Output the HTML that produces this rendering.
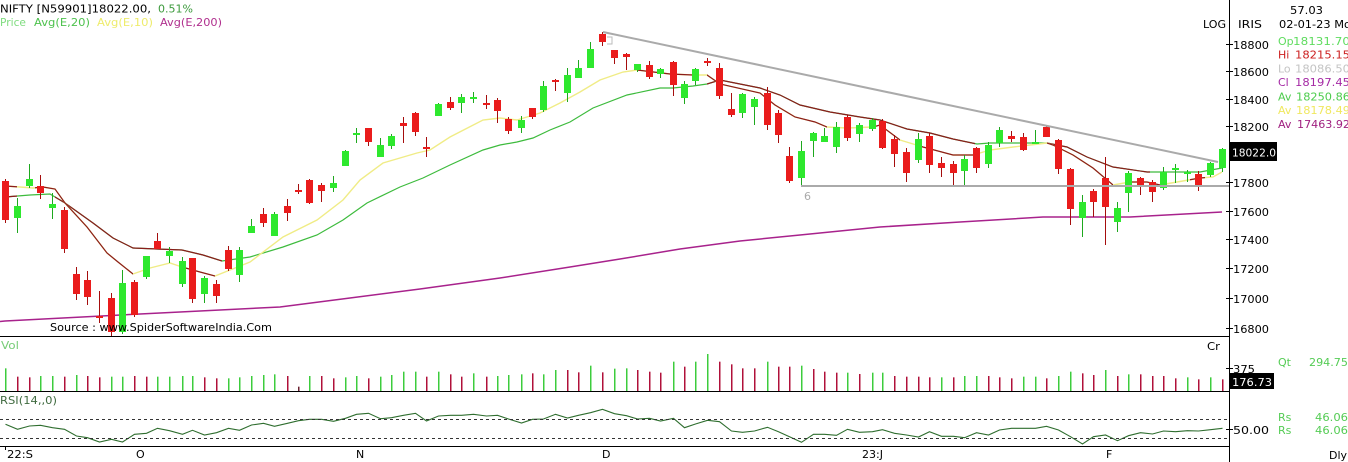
<!DOCTYPE html>
<html><head><meta charset="utf-8">
<style>
html,body{margin:0;padding:0;background:#fff;width:1348px;height:462px;overflow:hidden}
svg{display:block}
text{font-family:"DejaVu Sans","Liberation Sans",sans-serif;font-size:11px}
</style></head>
<body>
<svg id="s" width="1348" height="462" viewBox="0 0 1348 462" xmlns="http://www.w3.org/2000/svg">
<defs>
  <clipPath id="pc"><rect x="0" y="0" width="1229" height="336"/></clipPath>
  <clipPath id="m10">
    <rect x="0" y="0" width="17" height="336"/>
    <rect x="35" y="0" width="98" height="336"/>
    <rect x="180" y="0" width="35" height="336"/>
    <rect x="637" y="0" width="56" height="336"/>
    <rect x="707" y="0" width="120" height="336"/>
    <rect x="873" y="0" width="27" height="336"/>
    <rect x="920" y="0" width="55" height="336"/>
    <rect x="1047" y="0" width="66" height="336"/>
    <rect x="1130" y="0" width="30" height="336"/>
    <rect x="1190" y="0" width="15" height="336"/>
  </clipPath>
  <clipPath id="m20">
    <rect x="0" y="0" width="17" height="336"/>
    <rect x="55" y="0" width="167" height="336"/>
    <rect x="707" y="0" width="268" height="336"/>
    <rect x="1047" y="0" width="103" height="336"/>
  </clipPath>
</defs>
<rect x="0" y="0" width="1348" height="462" fill="#fff"/>

<g id="dyn"></g>

<!-- panel frame -->
<line x1="1229.5" y1="0" x2="1229.5" y2="462" stroke="#000" stroke-width="1"/>
<line x1="0" y1="336.5" x2="1229" y2="336.5" stroke="#000" stroke-width="1"/>
<line x1="0" y1="391.5" x2="1229" y2="391.5" stroke="#000" stroke-width="1"/>
<line x1="0" y1="446.5" x2="1229" y2="446.5" stroke="#000" stroke-width="1"/>
<line x1="0" y1="419.5" x2="1229" y2="419.5" stroke="#333" stroke-width="1" stroke-dasharray="3,3"/>
<line x1="0" y1="438.5" x2="1229" y2="438.5" stroke="#333" stroke-width="1" stroke-dasharray="3,3"/>

<!-- header left -->
<text x="0" y="12.5" fill="#000" textLength="151" lengthAdjust="spacingAndGlyphs">NIFTY [N59901]18022.00,</text>
<text x="158" y="12.5" fill="#3c9a3c" textLength="35" lengthAdjust="spacingAndGlyphs">0.51%</text>
<text x="0" y="26" fill="#7fdc7f" textLength="26" lengthAdjust="spacingAndGlyphs">Price</text>
<text x="34" y="26" fill="#4ec24e" textLength="56" lengthAdjust="spacingAndGlyphs">Avg(E,20)</text>
<text x="97" y="26" fill="#eeec6c" textLength="56" lengthAdjust="spacingAndGlyphs">Avg(E,10)</text>
<text x="160" y="26" fill="#b0308e" textLength="62" lengthAdjust="spacingAndGlyphs">Avg(E,200)</text>

<!-- header right -->
<text x="1290" y="14" fill="#000" textLength="33" lengthAdjust="spacingAndGlyphs">57.03</text>
<text x="1203" y="28" fill="#000" textLength="23" lengthAdjust="spacingAndGlyphs">LOG</text>
<text x="1238" y="28" fill="#000" textLength="24" lengthAdjust="spacingAndGlyphs">IRIS</text>
<text x="1279" y="28" fill="#000" textLength="72" lengthAdjust="spacingAndGlyphs">02-01-23 Mo</text>
<text x="1278" y="45" fill="#5fdc5f">Op</text><text x="1293" y="45" fill="#5fdc5f" textLength="57" lengthAdjust="spacingAndGlyphs">18131.70</text>
<text x="1278" y="58.5" fill="#cc1f1f">Hi</text><text x="1295" y="58.5" fill="#cc1f1f" textLength="55" lengthAdjust="spacingAndGlyphs">18215.15</text>
<text x="1278" y="72.5" fill="#c4c4c4">Lo</text><text x="1295" y="72.5" fill="#c4c4c4" textLength="55" lengthAdjust="spacingAndGlyphs">18086.50</text>
<text x="1278" y="86" fill="#a52aa5">Cl</text><text x="1295" y="86" fill="#a52aa5" textLength="55" lengthAdjust="spacingAndGlyphs">18197.45</text>
<text x="1278" y="100.5" fill="#4ccc4c">Av</text><text x="1296" y="100.5" fill="#4ccc4c" textLength="54" lengthAdjust="spacingAndGlyphs">18250.86</text>
<text x="1278" y="114" fill="#f0e860">Av</text><text x="1296" y="114" fill="#f0e860" textLength="54" lengthAdjust="spacingAndGlyphs">18178.49</text>
<text x="1278" y="128" fill="#a02080">Av</text><text x="1297" y="128" fill="#a02080" textLength="53" lengthAdjust="spacingAndGlyphs">17463.92</text>

<!-- price axis -->
<g stroke="#000" stroke-width="1">
  <line x1="1226" y1="44.5" x2="1233" y2="44.5"/>
  <line x1="1226" y1="71.5" x2="1233" y2="71.5"/>
  <line x1="1226" y1="99.5" x2="1233" y2="99.5"/>
  <line x1="1226" y1="126.5" x2="1233" y2="126.5"/>
  <line x1="1226" y1="182.5" x2="1233" y2="182.5"/>
  <line x1="1226" y1="211.5" x2="1233" y2="211.5"/>
  <line x1="1226" y1="239.5" x2="1233" y2="239.5"/>
  <line x1="1226" y1="268.5" x2="1233" y2="268.5"/>
  <line x1="1226" y1="298.5" x2="1233" y2="298.5"/>
  <line x1="1226" y1="328.5" x2="1233" y2="328.5"/>
  <line x1="1226" y1="368.5" x2="1233" y2="368.5"/>
  <line x1="1226" y1="429.5" x2="1233" y2="429.5"/>
</g>
<g fill="#000">
  <text x="1233" y="49" textLength="36" lengthAdjust="spacingAndGlyphs">18800</text>
  <text x="1233" y="76" textLength="36" lengthAdjust="spacingAndGlyphs">18600</text>
  <text x="1233" y="104" textLength="36" lengthAdjust="spacingAndGlyphs">18400</text>
  <text x="1233" y="131" textLength="36" lengthAdjust="spacingAndGlyphs">18200</text>
  <text x="1233" y="187" textLength="36" lengthAdjust="spacingAndGlyphs">17800</text>
  <text x="1233" y="216" textLength="36" lengthAdjust="spacingAndGlyphs">17600</text>
  <text x="1233" y="244" textLength="36" lengthAdjust="spacingAndGlyphs">17400</text>
  <text x="1233" y="273" textLength="36" lengthAdjust="spacingAndGlyphs">17200</text>
  <text x="1233" y="303" textLength="36" lengthAdjust="spacingAndGlyphs">17000</text>
  <text x="1233" y="333" textLength="36" lengthAdjust="spacingAndGlyphs">16800</text>
  <text x="1233" y="373" textLength="22" lengthAdjust="spacingAndGlyphs">375</text>
  <text x="1233" y="434" textLength="36" lengthAdjust="spacingAndGlyphs">50.00</text>
</g>
<rect x="1230" y="142" width="47" height="19" fill="#000"/>
<text x="1232" y="156.5" fill="#fff" textLength="44" lengthAdjust="spacingAndGlyphs">18022.0</text>
<rect x="1230" y="373" width="44" height="16" fill="#000"/>
<text x="1232" y="386" fill="#fff" textLength="40" lengthAdjust="spacingAndGlyphs">176.73</text>

<text x="1278" y="366" fill="#55cc55">Qt</text><text x="1309" y="366" fill="#55cc55" textLength="39" lengthAdjust="spacingAndGlyphs">294.75</text>
<text x="1278" y="421" fill="#55cc55">Rs</text><text x="1315" y="421" fill="#55cc55" textLength="33" lengthAdjust="spacingAndGlyphs">46.06</text>
<text x="1278" y="434" fill="#55cc55">Rs</text><text x="1315" y="434" fill="#55cc55" textLength="33" lengthAdjust="spacingAndGlyphs">46.06</text>
<text x="1329" y="459" fill="#000" textLength="18" lengthAdjust="spacingAndGlyphs">Dly</text>
<text x="1207" y="350" fill="#000" textLength="13" lengthAdjust="spacingAndGlyphs">Cr</text>

<!-- panel labels -->
<text x="1" y="349" fill="#77cc77" textLength="18" lengthAdjust="spacingAndGlyphs">Vol</text>
<text x="0" y="404" fill="#3f6a3f" textLength="57" lengthAdjust="spacingAndGlyphs">RSI(14,,0)</text>

<!-- x axis -->
<line x1="5.5" y1="447" x2="5.5" y2="450" stroke="#000"/>
<g fill="#000">
  <text x="7" y="458" textLength="26" lengthAdjust="spacingAndGlyphs">22:S</text>
  <text x="136" y="458">O</text>
  <text x="356" y="458">N</text>
  <text x="602" y="458">D</text>
  <text x="862" y="458" textLength="21" lengthAdjust="spacingAndGlyphs">23:J</text>
  <text x="1106" y="458">F</text>
</g>

<text x="804" y="200" fill="#aaa">6</text>
<text x="50" y="331" fill="#000" font-size="12" textLength="222" lengthAdjust="spacingAndGlyphs">Source : www.SpiderSoftwareIndia.Com</text>
</svg>

<script>
(function(){
var NS='http://www.w3.org/2000/svg';
var root=document.getElementById('dyn');
function el(tag,attrs,parent){var e=document.createElementNS(NS,tag);for(var k in attrs)e.setAttribute(k,attrs[k]);(parent||root).appendChild(e);return e;}

var C=[
[5,179,181,220,223,'R'],[17,198,206,218,233,'G'],[29,164,179,186,188,'G'],[40,175,186,193,199,'R'],
[52,193,204,208,219,'G'],[64,207,210,249,253,'R'],[76,267,274,294,300,'R'],[87,271,280,297,305,'R'],
[99,291,316,318,323,'R'],[111,293,298,332,336,'R'],[122,270,283,332,334,'G'],[134,280,282,315,317,'R'],
[146,256,256,277,279,'G'],[157,233,241,249,249,'R'],[169,247,251,256,263,'G'],[182,257,261,284,287,'G'],
[192,258,258,299,303,'R'],[204,276,278,294,303,'G'],[216,280,284,296,303,'R'],[228,246,250,269,271,'R'],
[239,247,250,275,282,'G'],[251,219,226,233,233,'G'],[263,208,214,223,227,'R'],[274,212,214,236,236,'G'],
[287,199,206,213,221,'R'],[298,184,190,192,194,'R'],[309,179,180,203,204,'R'],[321,183,185,191,202,'R'],
[333,176,183,188,192,'G'],[345,150,151,166,166,'G'],[356,128,133,135,143,'G'],[368,128,128,142,146,'R'],
[380,138,145,157,157,'G'],[391,134,136,146,149,'G'],[403,117,123,126,143,'R'],[415,112,113,132,136,'R'],
[426,137,147,149,157,'R'],[438,103,104,116,116,'G'],[450,97,102,108,110,'R'],[461,94,97,103,113,'G'],
[473,92,97,98,103,'G'],[486,95,103,105,109,'R'],[497,98,100,111,123,'R'],[508,117,119,131,134,'R'],
[521,116,120,128,133,'G'],[532,108,108,117,119,'R'],[543,81,86,110,112,'G'],[555,79,80,82,91,'R'],
[567,68,75,93,102,'G'],[578,60,68,78,78,'G'],[590,42,49,68,68,'G'],[602,32,34,42,46,'R'],
[614,50,50,58,64,'R'],[626,53,54,57,70,'R'],[637,64,64,70,72,'G'],[649,61,65,77,79,'R'],
[660,68,69,74,78,'G'],[673,61,62,85,96,'R'],[684,81,84,98,104,'G'],[695,68,69,81,85,'G'],
[707,58,61,62,66,'R'],[719,63,68,96,99,'R'],[731,93,109,115,117,'R'],[742,93,94,113,118,'G'],
[754,97,99,107,125,'G'],[767,87,93,125,130,'R'],[778,110,113,135,143,'R'],[789,147,156,181,183,'R'],
[801,141,151,178,185,'G'],[813,132,133,141,157,'G'],[824,128,136,142,142,'G'],[836,122,127,147,153,'G'],
[847,115,117,138,141,'R'],[859,123,125,134,142,'G'],[872,118,120,129,131,'G'],[882,119,121,148,149,'R'],
[894,135,139,154,167,'R'],[906,148,152,173,182,'R'],[918,133,139,160,163,'G'],[929,133,136,165,173,'R'],
[941,157,163,168,177,'R'],[953,161,164,173,185,'R'],[964,155,159,171,185,'G'],[976,147,148,168,173,'R'],
[988,142,145,164,168,'G'],[999,127,130,143,147,'G'],[1011,131,136,139,142,'R'],[1023,133,137,150,151,'R'],
[1035,130,142,143,143,'G'],[1046,125,127,137,137,'R'],[1058,139,140,169,174,'R'],[1070,168,169,209,225,'R'],
[1082,195,202,218,237,'G'],[1093,189,191,202,217,'R'],[1105,157,178,207,245,'R'],[1117,202,208,222,232,'G'],
[1128,171,173,193,212,'G'],[1140,177,178,185,195,'R'],[1152,180,182,192,202,'R'],[1163,167,172,188,190,'G'],
[1175,164,168,170,183,'G'],[1187,170,172,174,182,'G'],[1198,171,174,187,191,'R'],[1210,162,163,175,177,'G'],
[1222,148,149,168,172,'G']
];

var pg=el('g',{'clip-path':'url(#pc)'});

function pts(a){return a.map(function(p){return p[0]+','+p[1];}).join(' ');}
var E200=[[0,321.5],[5,321],[140,314],[280,307],[350,298],[420,289],[500,278],[570,267],[620,259],[680,249],[740,241],[800,235],[880,227],[960,222],[1043,217],[1130,217],[1222,212]];
var E20=[[5,197],[30,195],[50,194],[65,203],[93,223],[113,238],[133,248],[157,249],[182,250],[203,255],[222,261],[250,257],[283,247],[317,235],[343,220],[367,203],[400,187],[423,178],[450,165],[483,150],[500,145],[517,142],[533,138],[550,130],[570,122],[593,108],[627,95],[660,88],[673,88],[693,86],[707,84],[720,80],[760,88],[780,95],[800,105],[830,112],[860,117],[880,120],[907,129],[930,133],[953,139],[977,144],[990,143],[1020,143],[1047,143],[1067,147],[1087,157],[1113,167],[1147,172],[1163,172],[1200,172],[1222,168]];
var E10=[[5,186],[20,187],[33,188],[43,187],[55,189],[65,203],[87,227],[107,253],[118,262],[133,274],[150,268],[170,263],[182,267],[200,272],[215,276],[250,262],[283,237],[317,220],[343,200],[360,180],[383,163],[417,153],[430,150],[450,137],[483,120],[500,118],[517,120],[540,113],[560,103],[580,92],[600,80],[623,72],[637,70],[670,74],[693,75],[707,75],[720,84],[760,93],[775,105],[795,117],[815,122],[827,127],[847,128],[873,127],[880,125],[900,140],[923,147],[953,155],[973,155],[990,150],[1013,147],[1047,143],[1053,145],[1073,155],[1093,168],[1113,185],[1130,182],[1147,182],[1160,185],[1177,182],[1200,178],[1213,177],[1222,172]];

el('polyline',{points:pts(E200),fill:'none',stroke:'#a8228c','stroke-width':1.5},pg);
el('polyline',{points:pts(E20),fill:'none',stroke:'#3dbb3d','stroke-width':1.2},pg);
el('polyline',{points:pts(E20),fill:'none',stroke:'#8b1c1c','stroke-width':1.2,'clip-path':'url(#m20)'},pg);
el('polyline',{points:pts(E10),fill:'none',stroke:'#f0ec86','stroke-width':1.4},pg);
el('polyline',{points:pts(E10),fill:'none',stroke:'#8b1c1c','stroke-width':1.2,'clip-path':'url(#m10)'},pg);

// candles
C.forEach(function(c){
  var x=c[0],red=c[5]==='R';
  el('rect',{x:x,y:c[1],width:1,height:Math.max(1,c[4]-c[1]),fill:red?'#a50d0d':'#1ea81e'},pg);
  el('rect',{x:x-3,y:c[2],width:7,height:Math.max(2,c[3]-c[2]),fill:red?'#ea1c1c':'#2ee82e'},pg);
});

// trend lines
el('line',{x1:603,y1:32,x2:1218,y2:162,stroke:'#aaaaaa','stroke-width':2},pg);
el('line',{x1:801,y1:186,x2:1229,y2:186,stroke:'#aaaaaa','stroke-width':2},pg);
el('path',{d:'M607 37 h5 v7 h-5',fill:'none',stroke:'#bbb','stroke-width':1},pg);

// volume
var VT=[70,95,97,93,93,95,90,93,97,95,95,93,95,95,95,93,93,97,100,100,97,93,90,88,93,125,93,93,100,97,93,100,95,90,80,80,95,80,88,95,85,95,93,90,88,85,88,75,75,82,62,82,71,
70,75,80,83,50,65,50,27,50,58,70,70,50,65,65,62,72,80,83,83,87,83,83,93,95,95,97,97,97,93,93,93,97,100,95,95,100,93,80,85,90,75,93,88,88,93,93,100,97,103,97,103];
var VC='GRRGGRGRRGGRRGGGGRRGGGGGRDGRRGGRGGGGRGRRGRGGGRGGRRGRG'+'GRRRGRGGRRRRGRRGRRRGRGGRRRRGRGGRRRGGRGGRRGRGRRRRGRGR';
var vg=el('g',{});
for(var i=0;i<C.length;i++){
  var top=345+VT[i]/3, col=VC[i];
  var f=col==='G'?'#3ccc3c':(col==='D'?'#6a2030':'#b0103a');
  el('rect',{x:C[i][0],y:top,width:1.5,height:391-top,fill:f},vg);
}

// RSI
var RZ=[238,253,243,241,248,253,273,278,291,283,291,268,265,250,257,268,256,270,263,250,256,240,235,244,235,227,223,223,229,220,208,205,221,218,211,205,228,213,211,211,208,213,211,222,234,223,222,208,219,211,203,193,206,
212,222,220,228,220,248,237,226,230,258,262,258,247,260,275,292,268,268,271,253,262,260,254,265,270,276,260,274,274,278,263,270,255,250,250,250,244,255,275,297,275,270,287,272,263,267,258,260,257,258,254,250];
var rp=[];
for(var j=0;j<C.length;j++){rp.push([C[j][0]+0.5,(345+RZ[j]/3).toFixed(1)]);}
el('polyline',{points:pts(rp),fill:'none',stroke:'#2f6e2f','stroke-width':1.1});
})();
</script>
</body></html>
